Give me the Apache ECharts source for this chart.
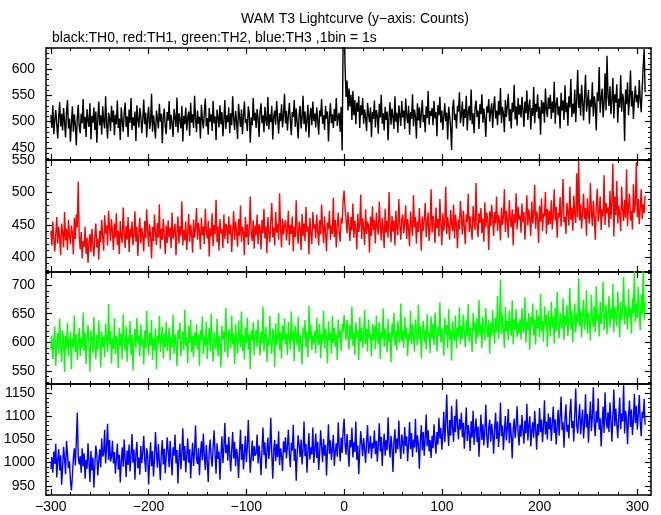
<!DOCTYPE html>
<html><head><meta charset="utf-8">
<script src="https://cdn.jsdelivr.net/npm/echarts@6/dist/echarts.min.js"></script>
<style>html,body{margin:0;padding:0;background:#fff}#c{width:661px;height:515px}</style>
</head><body><div id="c"></div><script>
// Time of the first bin (s) and bin width (s)
const startTime = -300;
const binSize = 1;

// TH0 (black) counts per 1 s bin
const th0 = [
512,488,531,476,503,522,495,468,509,537,491,515,483,526,499,470,518,541,487,506,462,497,529,481,514,493,455,508,532,490,
478,515,497,543,486,509,471,524,502,490,535,466,511,498,527,484,519,460,505,538,493,512,475,529,501,487,548,496,468,517,
507,482,530,499,521,474,513,495,540,488,506,465,527,502,481,516,536,490,510,471,523,498,545,484,508,492,519,463,531,504,
489,526,511,478,503,542,495,517,470,508,528,486,499,553,481,512,494,468,521,506,487,534,500,515,459,509,525,491,476,518,
502,539,485,513,497,471,524,508,490,546,479,516,503,487,530,462,511,495,527,483,508,519,473,536,498,514,488,549,505,480,
521,496,509,468,532,503,487,518,544,491,507,475,526,500,514,482,539,497,510,465,523,508,489,531,495,518,472,503,541,486,
512,499,527,478,516,493,548,505,484,520,501,467,534,509,490,523,476,511,538,497,505,482,529,515,460,508,493,545,502,517,
488,524,506,471,519,535,497,512,480,528,503,492,547,485,514,499,530,466,510,521,494,539,508,477,516,501,533,489,512,553,
497,520,483,511,536,502,474,518,509,541,490,525,498,468,514,530,487,507,549,495,519,481,505,532,470,512,526,493,538,501,
516,489,527,504,475,521,510,543,496,512,484,530,505,519,462,508,535,497,514,488,524,501,545,492,509,517,481,528,445,655,
690,604,547,578,521,563,529,551,503,558,512,541,495,536,519,548,488,531,512,545,496,523,508,482,536,514,499,527,471,518,
505,540,489,522,511,477,534,508,551,496,516,483,528,503,519,464,511,537,494,525,509,486,548,500,517,479,531,513,492,539,
508,521,486,544,512,497,530,475,518,505,552,491,523,510,468,535,502,527,488,516,541,499,513,480,529,507,558,494,520,511,
526,493,539,506,518,472,531,512,547,498,521,484,509,535,501,517,466,528,510,489,446,524,542,503,515,487,530,519,556,497,
512,538,491,524,507,549,483,519,530,502,561,495,516,478,527,540,509,521,486,533,514,552,498,525,506,471,529,517,543,500,
519,535,488,527,548,506,521,493,539,512,564,497,528,515,480,541,509,530,553,501,524,487,536,518,570,504,529,492,545,513,
532,508,547,521,490,538,516,559,503,529,542,485,526,511,566,497,534,519,552,506,528,475,541,515,537,498,563,522,509,546,
524,551,505,538,517,576,496,533,546,512,529,487,555,521,540,503,569,518,536,492,548,527,581,509,534,515,561,499,543,598,
526,553,511,570,538,502,547,589,519,535,560,496,542,528,575,510,548,532,483,556,539,604,517,545,563,508,537,592,521,625,
548,530,567,514,541,583,506,552,536,571,498,544,527,588,519,553,540,463,561,533,575,512,546,597,529,558,505,542,568,537,
551,526,579,542,518,563,604,638,556
];

// TH1 (red)
const th1 = [
441,418,455,427,409,436,462,421,447,430,403,452,438,415,470,426,444,411,458,433,420,449,437,404,461,428,466,446,517,432,
412,439,398,425,416,447,405,430,391,421,436,408,444,419,401,433,452,415,428,396,441,423,458,431,410,465,437,449,418,472,
446,425,459,438,411,452,430,468,419,441,405,456,433,422,477,439,414,448,427,462,408,443,431,455,418,436,471,424,447,402,
438,461,421,445,432,409,456,429,474,440,416,451,434,398,447,425,466,437,419,453,430,482,413,444,427,459,436,405,449,422,
457,431,446,414,469,428,440,452,403,437,463,421,448,433,486,418,442,426,455,411,439,467,424,450,435,407,458,430,444,476,
427,453,439,412,461,434,447,420,475,441,429,456,401,445,432,468,417,450,436,489,423,448,410,459,437,443,414,466,428,452,
446,421,463,435,450,408,442,471,427,455,438,416,459,433,480,424,447,440,403,462,431,451,419,444,494,436,425,457,413,449,
434,466,420,451,443,412,458,437,475,429,448,406,462,440,423,455,484,431,446,418,470,438,452,427,499,444,415,460,435,449,
457,426,443,472,419,450,436,463,409,447,431,488,440,421,455,445,411,467,433,452,425,478,439,448,404,461,437,420,470,444,
451,429,466,440,418,457,435,481,446,422,463,438,409,454,443,472,427,449,436,492,431,458,415,447,469,439,424,461,452,488,
503,476,458,437,470,449,425,462,441,483,430,456,444,412,467,439,451,497,428,460,445,419,474,436,455,448,407,463,433,479,
442,458,421,469,447,435,486,452,426,461,443,414,475,438,456,430,501,449,423,464,440,457,418,472,445,434,490,451,427,459,
466,437,453,480,428,459,444,417,471,450,433,496,446,462,421,455,439,476,448,410,463,441,458,484,431,452,469,425,447,505,
438,464,450,422,477,445,459,432,490,454,418,468,441,456,509,436,462,447,427,473,452,440,481,429,466,449,414,458,443,487,
461,435,472,448,420,466,454,498,439,463,445,427,479,457,442,515,450,431,468,453,476,437,460,424,485,446,469,455,411,471,
448,481,459,433,470,452,494,441,465,457,426,477,450,463,505,439,472,456,430,488,461,446,474,418,467,453,499,443,478,458,
465,438,483,454,470,427,461,496,449,474,458,433,486,452,467,512,444,471,460,422,479,455,491,440,468,463,501,436,475,450,
472,451,488,443,466,505,457,478,430,469,461,493,447,475,521,454,463,436,484,470,449,509,458,477,441,495,466,453,530,462,
548,457,482,444,470,498,459,476,433,491,466,452,515,473,448,487,461,427,479,506,455,469,494,442,474,463,527,450,484,468,
477,446,503,459,486,545,432,494,465,518,452,480,467,440,509,474,456,489,461,536,448,478,498,457,472,443,513,469,484,547,
462,490,451,476,505,459,482,468,495
];

// TH2 (green)
const th2 = [
587,612,571,603,628,559,594,616,580,641,597,566,621,605,548,611,589,634,575,600,618,553,607,592,647,583,614,569,599,625,
576,608,590,652,585,617,562,603,630,594,549,621,606,581,644,598,570,613,587,638,601,556,619,592,610,574,633,605,584,667,
596,620,563,607,588,642,579,612,601,555,626,593,615,570,649,602,585,628,566,609,597,637,578,613,551,604,623,589,643,598,
612,575,631,594,606,561,620,589,655,602,578,616,595,639,569,608,587,624,553,611,598,646,583,604,627,572,615,592,636,585,
603,626,568,610,591,648,580,614,597,558,622,605,634,576,601,619,586,657,593,609,564,628,599,640,582,611,574,617,595,632,
588,613,559,621,604,645,579,610,593,636,571,607,625,584,650,598,566,618,602,587,641,575,612,596,556,629,605,619,583,660,
600,574,623,610,589,647,596,615,562,631,603,580,638,606,592,654,585,612,570,626,599,643,587,614,553,620,604,635,578,609,
622,591,640,605,577,618,598,663,584,611,627,565,607,593,646,601,580,624,613,557,633,595,609,651,586,617,572,629,604,642,
597,615,578,636,609,588,654,602,620,567,629,611,594,645,583,613,600,561,626,607,639,591,618,574,664,605,630,586,612,599,
620,581,643,608,595,633,572,614,601,655,589,623,610,563,637,604,617,580,646,598,626,592,613,569,640,607,621,585,632,618,
648,626,603,639,612,587,630,605,662,594,617,578,635,609,621,569,644,601,626,590,612,657,597,623,584,640,608,615,575,632,
604,629,588,647,612,596,635,571,618,606,659,592,624,610,582,641,600,616,565,633,609,651,594,620,586,638,613,599,668,603,
621,590,644,607,626,576,615,603,655,597,632,611,584,640,619,595,666,605,628,572,613,637,600,622,588,649,609,617,581,645,
606,633,595,652,618,584,627,611,670,599,624,608,577,643,615,630,590,658,604,621,568,636,613,602,647,589,626,610,661,596,
629,605,648,617,592,638,611,667,600,626,614,583,651,620,635,597,642,608,674,612,631,589,645,618,603,660,624,609,639,580,
634,612,656,623,598,643,617,681,606,630,710,614,649,625,590,662,619,637,603,655,628,611,673,596,640,622,658,609,633,615,
641,605,660,628,617,679,599,636,622,651,587,644,630,668,612,639,596,657,625,646,609,685,620,637,601,663,629,648,592,655,
634,610,671,626,645,598,660,619,688,631,607,652,638,623,677,604,647,629,665,611,640,695,622,655,600,642,668,617,650,633,
712,628,657,609,646,674,622,640,691,615,652,636,603,683,644,627,662,618,698,638,649,610,671,632,655,706,621,645,666,614,
650,681,626,658,640,702,617,663,645,628,689,652,609,671,639,657,714,631,664,648,622,693,644,660,615,677,651,728,636,668,
642,697,655,621,684,649,725,638,670
];

// TH3 (blue)
const th3 = [
986,1012,978,1024,997,1041,968,1005,1029,983,1016,952,991,1034,1008,975,1047,1019,988,1003,961,940,972,1010,1031,994,1045,1108,1012,996,
1014,978,1031,992,1020,965,1006,987,1042,1001,958,1025,983,1011,946,995,1037,1018,972,1004,1029,990,1052,1013,1020,1071,998,1035,1084,1006,
1049,1002,1012,1047,998,1023,976,1009,1041,985,1017,957,1002,1033,991,1050,1008,969,1026,995,1039,981,1014,1062,1000,1028,963,1019,1045,988,
1011,974,1036,999,1022,1058,1007,980,1031,1016,953,1003,1044,992,1025,970,1010,1066,1021,989,1040,1002,962,1018,1049,996,1030,977,1013,1055,
1024,990,1047,1008,972,1033,1015,1061,998,1027,955,1012,1041,986,1020,1074,1004,1036,979,1017,1052,1000,1029,966,1011,1043,993,1025,1080,1009,
997,1031,973,1019,1046,1005,1063,1014,984,1038,1002,958,1026,1050,1011,991,1035,1070,1018,976,1042,1008,1024,963,1015,1057,999,1033,1086,1021,
1039,1004,1056,1017,981,1028,1066,1009,1045,992,1030,1013,967,1023,1071,1006,1040,985,1019,1058,1001,1034,1092,1025,978,1012,1048,1003,1036,1015,
1020,1061,998,1037,1011,973,1029,1076,1016,1044,987,1024,1054,1008,1033,1097,1019,965,1027,1049,1003,1040,1012,1068,995,1031,1015,982,1046,1022,
1055,1009,1035,1071,1018,990,1043,1026,1082,1004,1030,961,1021,1059,1037,1012,1050,996,1028,1089,1014,1041,978,1024,1064,1007,1033,1017,1076,999,
1029,1063,1010,1045,984,1022,1070,1034,1001,1051,1015,1038,972,1027,1083,1019,1048,1006,1031,1060,993,1025,1042,1013,1087,1035,1003,1054,1021,1068,
1095,1040,1017,1062,1028,991,1049,1033,1076,1011,1044,1023,1089,1006,1037,975,1026,1068,1041,1014,1053,1030,999,1046,1081,1020,1035,1058,1009,1043,
1031,1070,1018,1047,1002,1039,1085,1024,1056,993,1036,1063,1015,1049,1027,1098,1040,1011,1058,1033,980,1045,1072,1020,1052,1029,1091,1037,1008,1061,
1044,1019,1077,1036,1057,1003,1041,1088,1029,1064,1012,1050,1033,1095,1022,1059,1038,987,1046,1081,1027,1066,1015,1053,1104,1035,1070,1024,1049,1010,
1058,1031,1083,1047,1019,1066,1039,1097,1052,1075,1028,1061,1110,1044,1088,1147,1069,1036,1092,1058,1123,1074,1045,1101,1066,1137,1082,1050,1094,1071,
1108,1055,1086,1030,1072,1119,1047,1081,1063,1025,1090,1054,1112,1038,1069,1096,1044,1078,1013,1061,1104,1049,1083,1037,1070,1125,1058,1032,1076,1093,
1045,1084,1062,1019,1073,1108,1051,1089,1034,1066,1130,1057,1080,1027,1069,1101,1048,1075,1116,1042,1086,1061,1009,1072,1095,1053,1078,1122,1064,1037,
1082,1056,1103,1070,1041,1091,1063,1127,1048,1079,1100,1035,1068,1087,1054,1112,1073,1028,1084,1059,1118,1066,1093,1044,1077,1135,1061,1089,1050,1106,
1072,1098,1047,1085,1121,1064,1093,1039,1079,1114,1058,1101,1143,1070,1087,1032,1095,1126,1067,1082,1052,1109,1138,1075,1090,1046,1104,1160,1081,1063,
1097,1126,1061,1089,1115,1052,1084,1148,1076,1105,1043,1092,1132,1068,1100,1163,1080,1057,1111,1087,1139,1071,1096,1035,1083,1121,1064,1152,1093,1074,
1109,1066,1130,1091,1045,1102,1158,1079,1117,1084,1053,1098,1141,1072,1106,1089,1167,1063,1112,1094,1040,1101,1134,1077,1115,1060,1092,1149,1085,1123,
1071,1104,1146,1088,1057,1110,1096,1138,1082
];

// Tick labels
const xTickLabels = [-300, -200, -100, 0, 100, 200, 300];
const yTickLabels0 = [450, 500, 550, 600];
const yTickLabels1 = [400, 450, 500, 550];
const yTickLabels2 = [550, 600, 650, 700];
const yTickLabels3 = [950, 1000, 1050, 1100, 1150];

const seriesList = [th0, th1, th2, th3];
const colors = ['#000000', '#ff0000', '#00ff00', '#0000ff'];
const yTickSets = [yTickLabels0, yTickLabels1, yTickLabels2, yTickLabels3];
const yMin = [427, 377, 527, 930];
const yMax = [640, 550.5, 723, 1170];
const gridTop = [48, 160, 272, 384];
const gridH = [112, 112, 112, 111];
const xMin = -305, xMax = 314;

function steps(a, b, s) { const r = []; for (let v = Math.ceil(a / s) * s; v <= b; v += s) r.push(v); return r; }
const fmt = v => String(v).replace('-', '\u2212');
const FONT = 'Liberation Sans';

const grids = [], xAxes = [], yAxes = [], series = [];
for (let g = 0; g < 4; g++) {
  grids.push({ left: 46, right: 10, top: gridTop[g], height: gridH[g] });
  const xMinor = steps(xMin, xMax, 20);
  const yMinor = steps(yMin[g], yMax[g], 10);
  const xb = { gridIndex: g, type: 'value', min: xMin, max: xMax, splitLine: { show: false } };
  const line = { show: true, onZero: false, lineStyle: { color: '#000', width: 1.5 } };
  const noLine = { show: false, onZero: false };
  ['bottom', 'top'].forEach(pos => {
    xAxes.push(Object.assign({}, xb, {
      position: pos, axisLine: line,
      axisTick: { show: true, inside: true, length: 6, customValues: xTickLabels, lineStyle: { color: '#000', width: 1.2 } },
      axisLabel: (g === 3 && pos === 'bottom') ? { show: true, customValues: xTickLabels, formatter: fmt, color: '#000', fontSize: 14, fontFamily: FONT, margin: 5 } : { show: false }
    }));
    xAxes.push(Object.assign({}, xb, {
      position: pos, axisLine: noLine,
      axisTick: { show: true, inside: true, length: 3, customValues: xMinor, lineStyle: { color: '#000', width: 1 } },
      axisLabel: { show: false }
    }));
  });
  const yb = { gridIndex: g, type: 'value', min: yMin[g], max: yMax[g], splitLine: { show: false } };
  ['left', 'right'].forEach(pos => {
    yAxes.push(Object.assign({}, yb, {
      position: pos, axisLine: line,
      axisTick: { show: true, inside: true, length: 6, customValues: yTickSets[g], lineStyle: { color: '#000', width: 1.2 } },
      axisLabel: pos === 'left' ? { show: true, customValues: yTickSets[g], formatter: v => String(v), color: '#000', fontSize: 14, fontFamily: FONT, margin: 11 } : { show: false }
    }));
    yAxes.push(Object.assign({}, yb, {
      position: pos, axisLine: noLine,
      axisTick: { show: true, inside: true, length: 3, customValues: yMinor, lineStyle: { color: '#000', width: 1 } },
      axisLabel: { show: false }
    }));
  });
  series.push({
    type: 'line', xAxisIndex: g * 4, yAxisIndex: g * 4,
    data: seriesList[g].map((v, i) => [startTime + i * binSize, v]),
    showSymbol: false, symbol: 'none', clip: true,
    lineStyle: { color: colors[g], width: 1.4 }, itemStyle: { color: colors[g] },
    animation: false, silent: true
  });
}

const chart = echarts.init(document.getElementById('c'), null, { renderer: 'canvas' });
chart.setOption({
  backgroundColor: '#ffffff',
  animation: false,
  title: [
    { text: 'WAM T3 Lightcurve (y\u2212axis: Counts)', left: 350, textAlign: 'center', top: 7, textStyle: { color: '#000', fontSize: 14, fontWeight: 'normal', fontFamily: FONT } },
    { text: 'black:TH0, red:TH1, green:TH2, blue:TH3 ,1bin = 1s', left: 47, top: 26, textStyle: { color: '#000', fontSize: 14, fontWeight: 'normal', fontFamily: FONT } }
  ],
  grid: grids,
  xAxis: xAxes,
  yAxis: yAxes,
  series: series
});
</script></body></html>
